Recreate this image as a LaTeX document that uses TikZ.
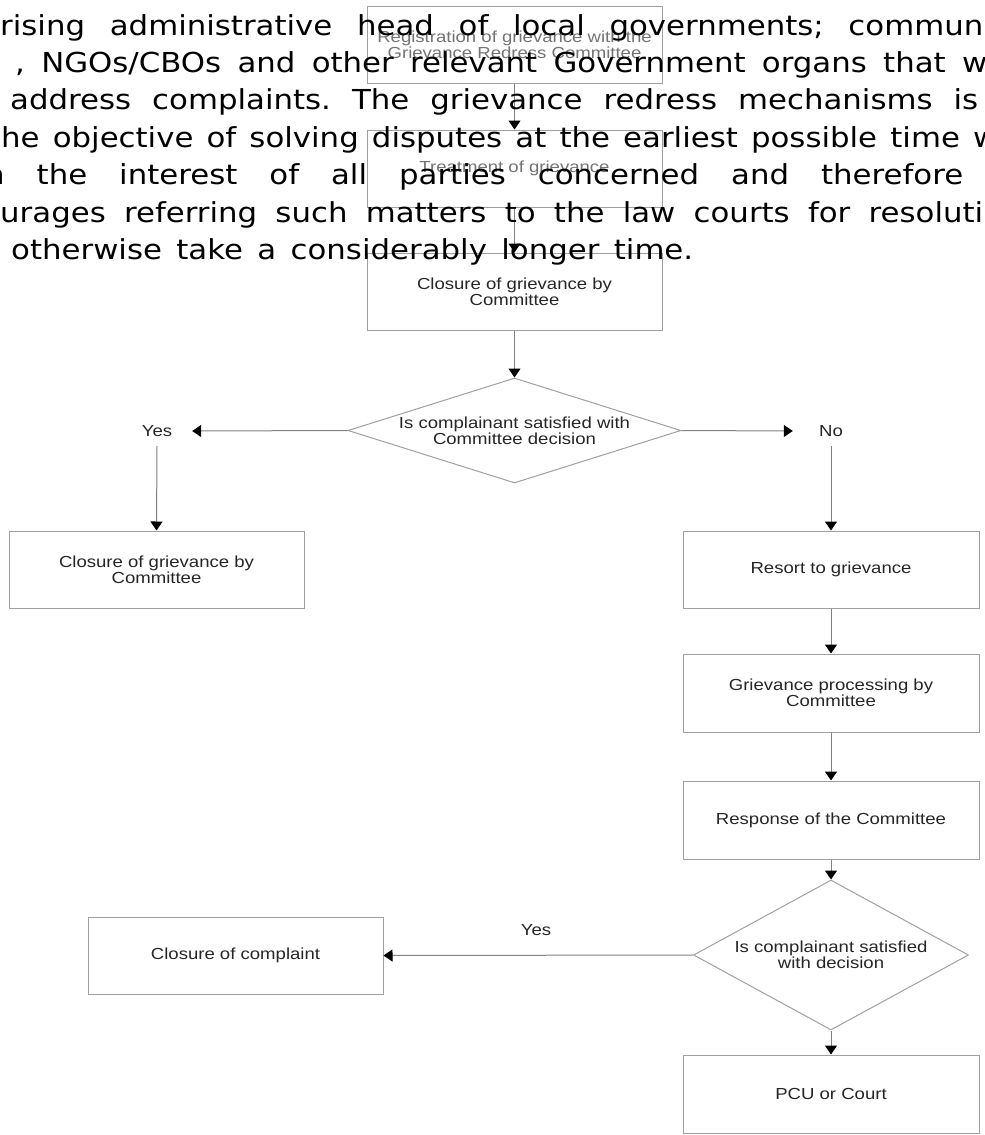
\documentclass[tikz,border=0pt]{standalone}
\usepackage{fontspec}
\setmainfont{Liberation Sans}
\newfontfamily\boxfont[FakeStretch=1.16]{Liberation Sans}
\newfontfamily\parafont[FakeStretch=1.12]{DejaVu Sans}
\usetikzlibrary{shapes.geometric,arrows.meta}
\definecolor{boxgray}{HTML}{A0A0A0}
\definecolor{linegray}{HTML}{808080}
\definecolor{txt}{HTML}{262626}
\frenchspacing
\begin{document}
\begin{tikzpicture}[x=1pt,y=-1pt,
  flowbox/.style={draw=boxgray, line width=1pt, minimum width=295pt, minimum height=77pt,
    inner sep=0pt, align=center, text=txt, font=\boxfont\fontsize{16}{16}\selectfont},
  decision/.style={diamond, draw=boxgray, line width=1pt, inner sep=0pt},
  dtext/.style={align=center, inner sep=0pt, text=txt, font=\boxfont\fontsize{16}{16}\selectfont},
  lbl/.style={inner sep=0pt, text=txt, font=\boxfont\fontsize{16}{16}\selectfont},
  conn/.style={draw=linegray, line width=1pt, -{Triangle[length=9pt,width=12pt,color=black]}},
  paraline/.style={anchor=base west, inner sep=0pt, text=black, font=\parafont\fontsize{27.5}{37.4}\selectfont\frenchspacing}]
\useasboundingbox (0,0) rectangle (985,1135);
\clip (0,0) rectangle (985,1135);
\fill[white] (0,0) rectangle (985,1135);

% flow nodes
\node[flowbox, text=black!55] (reg) at (514.5,44.5) {Registration of grievance with the\\Grievance Redress Committee};
\node[flowbox, text=black!55] (treat) at (514.5,168.5) {Treatment of grievance};
\node[flowbox] (close1) at (514.5,291.5) {Closure of grievance by\\Committee};
\node[decision, minimum width=333pt, minimum height=105pt] (dia1) at (514.5,430.5) {};
\node[dtext] (dia1txt) at (dia1.center) {Is complainant satisfied with\\Committee decision};
\node[lbl, minimum width=70pt, minimum height=30pt] (yes1) at (157,431) {Yes};
\node[lbl, minimum width=76pt, minimum height=30pt] (no1) at (831,431) {No};
\node[flowbox] (close2) at (156.5,569.5) {Closure of grievance by\\Committee};
\node[flowbox, minimum width=296pt] (resort) at (831,569.5) {Resort to grievance};
\node[flowbox, minimum width=296pt, minimum height=78pt] (proc) at (831,693) {Grievance processing by\\Committee};
\node[flowbox, minimum width=296pt, minimum height=78pt] (resp) at (831,820) {Response of the Committee};
\node[decision, minimum width=275pt, minimum height=150pt] (dia2) at (831,955) {};
\node[dtext] (dia2txt) at (dia2.center) {Is complainant satisfied\\with decision};
\node[flowbox] (closec) at (235.5,955.5) {Closure of complaint};
\node[lbl] (yes2) at (536,930) {Yes};
\node[flowbox, minimum width=296pt, minimum height=78pt] (pcu) at (831,1094) {PCU or Court};

% connectors
\draw[conn] (reg) -- (treat);
\draw[conn] (treat) -- (close1);
\draw[conn] (close1) -- (dia1);
\draw[conn] (dia1.west) -- (yes1.east);
\draw[conn] (yes1.south) -- (close2.north);
\draw[conn] (dia1.east) -- (no1.west);
\draw[conn] (no1.south) -- (resort.north);
\draw[conn] (resort) -- (proc);
\draw[conn] (proc) -- (resp);
\draw[conn] (resp) -- (dia2);
\draw[conn] (dia2) -- (pcu);
\draw[conn] (dia2.west) -- (closec.east);

% paragraph overlaid on top
\node[paraline] (p1) at (0,35) {\makebox[983pt][s]{rising administrative head of local governments; commun}};
\node[paraline] (p2) at (15,72) {\makebox[972pt][s]{, NGOs/CBOs and other relevant Government organs that w}};
\node[paraline] (p3) at (10,109) {\makebox[968pt][s]{address complaints. The grievance redress mechanisms is}};
\node[paraline] (p4) at (1,147) {\makebox[997pt][s]{he objective of solving disputes at the earliest possible time w}};
\node[paraline] (p5) at (-15,184) {\makebox[978pt][s]{n the interest of all parties concerned and therefore}};
\node[paraline] (p6) at (0,222) {\makebox[983pt][s]{urages referring such matters to the law courts for resoluti}};
\node[paraline] (p7) at (11,259) {\makebox[682pt][s]{otherwise take a considerably longer time.}};
\end{tikzpicture}
\end{document}
